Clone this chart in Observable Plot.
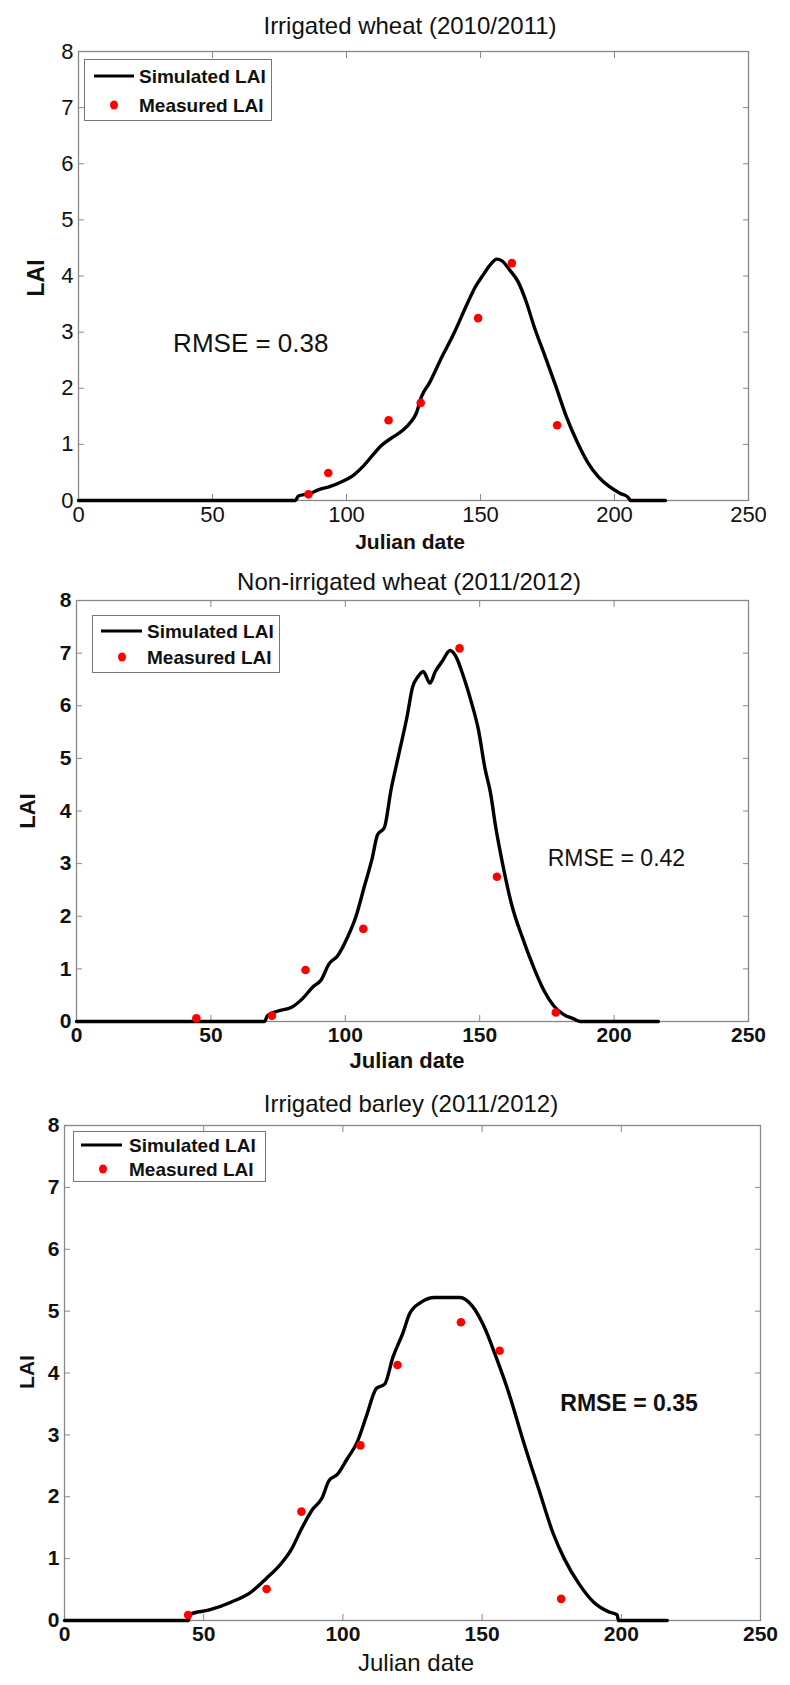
<!DOCTYPE html>
<html>
<head>
<meta charset="utf-8">
<script src="https://cdn.jsdelivr.net/npm/d3@7"></script>
<script src="https://cdn.jsdelivr.net/npm/@observablehq/plot@0.6"></script>
<style>
  html, body { margin: 0; padding: 0; background: #fff; }
  #page { position: relative; width: 790px; height: 1685px; background: #fff; overflow: hidden;
          font-family: "Liberation Sans", Arial, sans-serif; color: #111; }
  .panel { position: absolute; left: 0; }
  .lbl { position: absolute; white-space: nowrap; transform: translate(-50%, -50%); line-height: 1; }
  .legend { position: absolute; background: #fff; border: 1px solid #777; box-sizing: border-box; }
  .legend .row { position: absolute; white-space: nowrap; font-weight: bold; line-height: 1; transform: translateY(-50%); }
  .legend .ln { position: absolute; height: 3px; background: #000; transform: translateY(-50%); }
  .legend .pt { position: absolute; width: 8px; height: 9px; border-radius: 50%; background: #ff0000; transform: translate(-50%, -50%); }
</style>
</head>
<body>
<div id="page"></div>
<script>
// ---------- data ----------
const xTicks = [0, 50, 100, 150, 200, 250];
const yTicks = [0, 1, 2, 3, 4, 5, 6, 7, 8];

const titles = ["Irrigated wheat (2010/2011)", "Non-irrigated wheat (2011/2012)", "Irrigated barley (2011/2012)"];
const xLabel = "Julian date";
const yLabel = "LAI";
const legendLabels = ["Simulated LAI", "Measured LAI"];
const rmseLabels = ["RMSE = 0.38", "RMSE = 0.42", "RMSE = 0.35"];
const rmseDay = [35.3, 175.3, 178.1];
const rmseLai = [2.8, 3.09, 3.5];

// Panel 1: irrigated wheat 2010/2011
const simDay1 = [0, 81, 82, 86, 90, 94, 98, 102, 106, 110, 113, 117, 121, 124, 126, 128, 131, 135, 140, 145, 148, 151, 154, 156, 158, 161, 164, 167, 170, 174, 178, 182, 186, 190, 194, 198, 202, 205, 206, 219];
const simLai1 = [0, 0, 0.08, 0.12, 0.2, 0.25, 0.33, 0.43, 0.6, 0.82, 0.98, 1.12, 1.25, 1.4, 1.55, 1.85, 2.1, 2.5, 2.97, 3.5, 3.8, 4.02, 4.22, 4.3, 4.27, 4.1, 3.9, 3.55, 3.1, 2.58, 2.05, 1.5, 1.05, 0.68, 0.42, 0.25, 0.13, 0.06, 0, 0];
const measDay1 = [85.8, 93.2, 115.7, 127.7, 149.1, 161.7, 178.6];
const measLai1 = [0.11, 0.49, 1.43, 1.74, 3.25, 4.23, 1.34];

// Panel 2: non-irrigated wheat 2011/2012
const simDay2 = [0, 70, 71, 75, 80, 84, 88, 91, 94, 97, 101, 104, 107, 110, 112, 114.5, 117, 120, 123, 125, 127, 129, 131.5, 133.5, 136, 139, 141, 144, 147, 149.5, 152, 154, 156, 158.5, 162, 166, 170, 174, 177.5, 181, 185, 187.5, 216.5];
const simLai2 = [0, 0, 0.11, 0.2, 0.27, 0.43, 0.66, 0.79, 1.1, 1.24, 1.62, 2.0, 2.55, 3.1, 3.55, 3.68, 4.4, 5.1, 5.8, 6.35, 6.55, 6.65, 6.43, 6.65, 6.84, 7.05, 6.95, 6.55, 6.05, 5.55, 4.8, 4.35, 3.68, 3.0, 2.2, 1.58, 1.04, 0.58, 0.3, 0.14, 0.05, 0, 0];
const measDay2 = [44.6, 72.7, 85.2, 106.7, 142.5, 156.4, 178.3];
const measLai2 = [0.06, 0.11, 0.98, 1.76, 7.09, 2.75, 0.17];

// Panel 3: irrigated barley 2011/2012
const simDay3 = [0, 44.5, 45, 52, 60, 67, 72.5, 78, 81.5, 85, 89, 92.5, 95, 98, 101.5, 105, 108.5, 112, 115, 118, 121.5, 124, 128, 133, 142, 146.5, 150.5, 155, 159.5, 165, 170.5, 175.5, 179.5, 185, 190, 195.5, 198.5, 199, 216.5];
const simLai3 = [0, 0, 0.1, 0.17, 0.3, 0.46, 0.68, 0.93, 1.15, 1.47, 1.79, 1.98, 2.26, 2.36, 2.61, 2.87, 3.31, 3.75, 3.82, 4.26, 4.64, 4.96, 5.14, 5.22, 5.22, 5.08, 4.77, 4.26, 3.69, 2.87, 2.1, 1.41, 1.0, 0.58, 0.3, 0.14, 0.09, 0, 0];
const measDay3 = [44.4, 72.6, 85.1, 106.3, 119.6, 142.4, 156.3, 178.4];
const measLai3 = [0.09, 0.51, 1.76, 2.83, 4.13, 4.82, 4.36, 0.35];

// ---------- layout ----------
const panels = [
  { top: 0, height: 545, mt: 51, mb: 45, ml: 78, mr: 42,
    sim: [simDay1, simLai1], meas: [measDay1, measLai1],
    tickSize: 22, tickWeight: "normal", rmseSize: 26, rmseWeight: "normal",
    title: { x: 410, y: 26, size: 24, weight: "normal" },
    xl: { x: 410, y: 541, size: 21, weight: "bold" },
    yl: { x: 36, y: 278, size: 23, weight: "bold" },
    legend: { x: 84, y: 59, w: 188, h: 62, lx: 93, lw: 40, ly1: 16, ly2: 44.5, tx: 138, px: 113, fs: 19 } },
  { top: 545, height: 525, mt: 55, mb: 49, ml: 76, mr: 42,
    sim: [simDay2, simLai2], meas: [measDay2, measLai2],
    tickSize: 21, tickWeight: "bold", rmseSize: 23, rmseWeight: "normal",
    title: { x: 409, y: 582, size: 24, weight: "normal" },
    xl: { x: 407, y: 1061, size: 22, weight: "bold" },
    yl: { x: 28, y: 811, size: 22, weight: "bold" },
    legend: { x: 92, y: 615, w: 188, h: 58, lx: 100, lw: 41, ly1: 15, ly2: 41, tx: 146, px: 121, fs: 19 } },
  { top: 1070, height: 615, mt: 55, mb: 65, ml: 64, mr: 30,
    sim: [simDay3, simLai3], meas: [measDay3, measLai3],
    tickSize: 21, tickWeight: "bold", rmseSize: 23, rmseWeight: "bold",
    title: { x: 411, y: 1104, size: 24, weight: "normal" },
    xl: { x: 416, y: 1663, size: 24, weight: "normal" },
    yl: { x: 26, y: 1372, size: 21, weight: "bold" },
    legend: { x: 73, y: 1131, w: 193, h: 51, lx: 80, lw: 41, ly1: 13, ly2: 37, tx: 128, px: 102, fs: 19 } }
];

const page = document.getElementById("page");
const fmtInt = d3.format("d");

function addLabel(text, o, rotate) {
  const d = document.createElement("div");
  d.className = "lbl";
  d.textContent = text;
  d.style.left = o.x + "px";
  d.style.top = o.y + "px";
  d.style.fontSize = o.size + "px";
  d.style.fontWeight = o.weight;
  if (rotate) d.style.transform = "translate(-50%, -50%) rotate(-90deg)";
  page.appendChild(d);
}

panels.forEach((p, i) => {
  const sim = p.sim[0].map((d, k) => ({ day: d, lai: p.sim[1][k] }));
  const meas = p.meas[0].map((d, k) => ({ day: d, lai: p.meas[1][k] }));
  const rmse = [{ day: rmseDay[i], lai: rmseLai[i], text: rmseLabels[i] }];

  const chart = Plot.plot({
    width: 790,
    height: p.height,
    marginTop: p.mt, marginBottom: p.mb, marginLeft: p.ml, marginRight: p.mr,
    style: { fontFamily: "Liberation Sans, Arial, sans-serif", color: "#111", background: "transparent" },
    x: { domain: [0, 250], label: null },
    y: { domain: [0, 8], label: null },
    marks: [
      Plot.frame({ stroke: "#888", strokeWidth: 1.3 }),
      // inward ticks on all four sides
      Plot.axisX(xTicks, { anchor: "bottom", tickSize: -6, tickFormat: () => "", stroke: "#888" }),
      Plot.axisX(xTicks, { anchor: "top", tickSize: -6, tickFormat: () => "", stroke: "#888" }),
      Plot.axisY(yTicks, { anchor: "left", tickSize: -6, tickFormat: () => "", stroke: "#888" }),
      Plot.axisY(yTicks, { anchor: "right", tickSize: -6, tickFormat: () => "", stroke: "#888" }),
      // labels
      Plot.axisX(xTicks, { anchor: "bottom", tickSize: 0, tickPadding: 6, tickFormat: fmtInt, fontSize: p.tickSize, fontWeight: p.tickWeight, fill: "#111" }),
      Plot.axisY(yTicks, { anchor: "left", tickSize: 0, tickPadding: 5, tickFormat: fmtInt, fontSize: p.tickSize, fontWeight: p.tickWeight, fill: "#111" }),
      Plot.line(sim, { x: "day", y: "lai", stroke: "#000", strokeWidth: 3.4, curve: "monotone-x" }),
      Plot.dot(meas, { x: "day", y: "lai", r: 4.3, fill: "#ff0000", stroke: null }),
      Plot.text(rmse, { x: "day", y: "lai", text: "text", textAnchor: "start", fontSize: p.rmseSize, fontWeight: p.rmseWeight, fill: "#111" })
    ]
  });

  const wrap = document.createElement("div");
  wrap.className = "panel";
  wrap.style.top = p.top + "px";
  wrap.appendChild(chart);
  page.appendChild(wrap);

  addLabel(titles[i], p.title, false);
  addLabel(xLabel, p.xl, false);
  addLabel(yLabel, p.yl, true);

  // legend
  const L = p.legend;
  const box = document.createElement("div");
  box.className = "legend";
  box.style.left = L.x + "px";
  box.style.top = L.y + "px";
  box.style.width = L.w + "px";
  box.style.height = L.h + "px";
  const ln = document.createElement("div");
  ln.className = "ln";
  ln.style.left = (L.lx - L.x) + "px";
  ln.style.width = L.lw + "px";
  ln.style.top = L.ly1 + "px";
  box.appendChild(ln);
  const pt = document.createElement("div");
  pt.className = "pt";
  pt.style.left = (L.px - L.x) + "px";
  pt.style.top = L.ly2 + "px";
  box.appendChild(pt);
  [L.ly1, L.ly2].forEach((yy, k) => {
    const r = document.createElement("div");
    r.className = "row";
    r.textContent = legendLabels[k];
    r.style.left = (L.tx - L.x) + "px";
    r.style.top = yy + "px";
    r.style.fontSize = L.fs + "px";
    box.appendChild(r);
  });
  page.appendChild(box);
});
</script>
</body>
</html>
